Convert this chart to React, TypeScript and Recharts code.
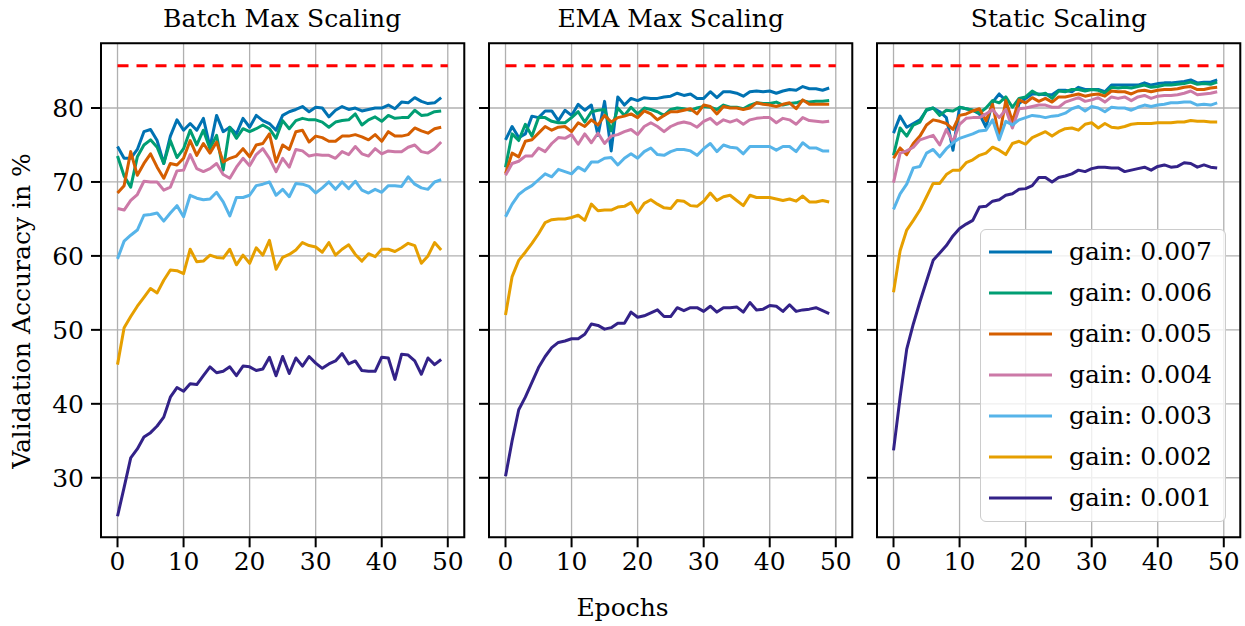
import React from 'react';
import { LineChart, Line, XAxis, YAxis, CartesianGrid, ReferenceLine, ReferenceArea, Legend } from 'recharts';

// ---------- data ----------
const epochs = [0, 1, 2, 3, 4, 5, 6, 7, 8, 9, 10, 11, 12, 13, 14, 15, 16, 17, 18, 19, 20, 21, 22, 23, 24, 25, 26, 27, 28, 29, 30, 31, 32, 33, 34, 35, 36, 37, 38, 39, 40, 41, 42, 43, 44, 45, 46, 47, 48, 49];
const gainLabels = ['gain: 0.007', 'gain: 0.006', 'gain: 0.005', 'gain: 0.004', 'gain: 0.003', 'gain: 0.002', 'gain: 0.001'];
const panelTitles = ['Batch Max Scaling', 'EMA Max Scaling', 'Static Scaling'];
const xTicks = [0, 10, 20, 30, 40, 50];
const yTicks = [30, 40, 50, 60, 70, 80];
const baselineAccuracy = 85.7;
const baselineEpochs = [0, 50];

// Batch Max Scaling
const batch007 = [74.8, 73.2, 73.2, 74.4, 76.8, 77.1, 75.6, 72.5, 76.2, 78.4, 77.0, 77.9, 77.0, 78.6, 74.7, 79.0, 76.8, 77.4, 76.5, 78.6, 77.4, 79.0, 78.3, 77.9, 77.0, 79.0, 79.5, 79.8, 80.2, 79.5, 80.1, 80.0, 78.8, 79.7, 80.2, 79.8, 80.0, 79.6, 79.8, 80.0, 80.0, 80.4, 79.9, 80.8, 80.7, 81.4, 80.9, 80.6, 80.7, 81.4];
const batch006 = [73.5, 70.8, 69.3, 73.4, 75.0, 75.7, 74.7, 72.5, 75.6, 73.3, 74.5, 77.0, 75.0, 77.0, 74.5, 76.3, 71.6, 77.4, 75.9, 77.2, 76.8, 77.2, 77.7, 77.2, 75.9, 78.3, 77.2, 78.3, 78.6, 78.4, 78.4, 78.1, 77.4, 78.1, 78.3, 78.4, 79.2, 77.7, 78.4, 78.8, 78.2, 79.0, 78.6, 78.7, 78.7, 79.7, 79.0, 79.1, 79.5, 79.6];
const batch005 = [68.5, 69.5, 74.1, 70.9, 72.5, 73.8, 72.0, 70.5, 72.5, 72.3, 73.2, 75.6, 73.6, 75.2, 73.9, 75.4, 72.7, 73.2, 73.5, 74.5, 73.4, 75.0, 75.2, 76.5, 72.7, 75.0, 74.4, 76.8, 77.0, 75.4, 76.2, 76.0, 75.5, 75.5, 76.2, 76.2, 76.4, 76.1, 75.7, 76.4, 75.5, 76.8, 76.2, 76.2, 76.4, 77.3, 76.9, 76.6, 77.2, 77.4];
const batch004 = [66.4, 66.2, 67.5, 68.3, 70.1, 70.0, 70.0, 68.9, 69.3, 71.5, 71.6, 73.7, 71.8, 71.4, 71.8, 72.5, 71.0, 70.5, 72.0, 73.2, 72.2, 73.7, 74.5, 73.2, 71.4, 73.2, 72.0, 74.4, 74.2, 73.5, 73.7, 73.6, 73.6, 73.2, 74.1, 73.7, 74.8, 73.8, 73.5, 74.5, 73.8, 74.2, 74.1, 74.1, 74.7, 75.0, 74.1, 73.9, 74.5, 75.4];
const batch003 = [59.6, 62.0, 62.8, 63.5, 65.5, 65.6, 65.8, 64.7, 65.8, 66.8, 65.3, 68.2, 67.8, 67.6, 67.7, 68.6, 67.3, 65.4, 67.9, 67.9, 68.2, 69.5, 69.7, 70.0, 68.2, 69.0, 68.0, 69.8, 69.7, 69.4, 68.5, 69.2, 70.0, 69.0, 70.0, 69.1, 70.1, 68.9, 68.5, 69.0, 68.6, 69.5, 69.5, 69.4, 70.7, 69.7, 69.2, 69.0, 70.0, 70.3];
const batch002 = [45.3, 50.3, 51.8, 53.2, 54.4, 55.6, 55.0, 56.7, 58.1, 58.0, 57.6, 60.9, 59.2, 59.3, 60.1, 59.8, 59.7, 60.9, 58.8, 60.1, 59.0, 61.1, 60.1, 62.1, 58.2, 59.8, 60.2, 60.8, 61.8, 61.4, 61.2, 60.5, 61.8, 60.1, 60.9, 61.5, 60.2, 59.3, 60.3, 59.9, 60.9, 60.9, 60.6, 61.1, 61.7, 61.4, 59.0, 60.0, 61.8, 60.8];
const batch001 = [24.8, 28.7, 32.7, 33.9, 35.5, 36.1, 37.0, 38.2, 40.9, 42.2, 41.7, 42.7, 42.6, 43.8, 45.0, 44.2, 44.4, 45.0, 43.8, 45.1, 45.0, 44.5, 44.7, 46.3, 43.8, 46.4, 44.1, 46.2, 45.1, 46.4, 45.5, 44.8, 45.4, 45.8, 46.8, 45.4, 45.8, 44.5, 44.4, 44.4, 46.3, 46.2, 43.3, 46.7, 46.6, 45.8, 44.0, 46.2, 45.3, 46.0];

// EMA Max Scaling
const ema007 = [75.7, 77.5, 76.0, 76.5, 78.9, 78.7, 79.6, 79.6, 78.3, 79.7, 79.0, 80.5, 79.7, 80.4, 76.3, 80.9, 74.2, 81.5, 80.4, 81.3, 81.0, 81.4, 81.3, 81.3, 81.5, 81.6, 82.0, 81.7, 81.9, 81.3, 81.3, 82.2, 81.4, 82.2, 82.2, 82.0, 81.6, 82.2, 82.3, 82.2, 82.3, 82.0, 82.3, 82.5, 82.4, 82.9, 82.6, 82.6, 82.4, 82.7];
const ema006 = [72.0, 76.5, 75.6, 77.8, 76.2, 78.7, 78.7, 78.2, 78.0, 78.0, 78.7, 79.5, 78.1, 79.5, 79.7, 79.8, 76.9, 80.0, 79.0, 80.1, 79.2, 80.0, 79.8, 79.5, 79.0, 79.8, 80.0, 79.9, 79.7, 80.0, 80.2, 80.1, 79.8, 80.4, 80.1, 80.1, 79.9, 80.4, 80.7, 80.6, 80.6, 80.8, 80.4, 80.6, 80.7, 81.0, 80.8, 80.9, 80.9, 81.0];
const ema005 = [71.1, 73.9, 73.4, 75.5, 75.7, 76.6, 77.5, 77.0, 77.4, 77.5, 76.8, 78.0, 77.5, 78.4, 77.7, 79.0, 78.1, 78.7, 78.9, 79.2, 78.7, 79.6, 79.2, 78.4, 79.0, 79.5, 79.5, 79.7, 79.9, 79.2, 80.4, 80.2, 79.2, 80.2, 80.0, 80.0, 79.8, 80.0, 80.7, 80.5, 80.4, 80.2, 80.5, 80.7, 79.9, 81.1, 80.5, 80.5, 80.5, 80.5];
const ema004 = [70.9, 72.5, 72.8, 73.5, 73.5, 74.6, 74.1, 75.2, 76.0, 75.9, 76.4, 75.1, 76.5, 75.3, 76.6, 75.2, 76.2, 76.4, 76.8, 77.1, 76.4, 77.5, 78.0, 77.5, 76.8, 77.5, 77.9, 78.1, 77.9, 77.4, 78.2, 78.6, 77.8, 78.4, 78.1, 78.4, 77.8, 78.4, 78.6, 78.7, 78.7, 78.0, 78.6, 78.4, 77.8, 78.7, 78.3, 78.2, 78.1, 78.2];
const ema003 = [65.3, 67.0, 68.3, 69.0, 69.5, 70.3, 71.1, 70.7, 71.7, 71.4, 71.1, 72.0, 71.5, 72.7, 72.7, 73.2, 73.3, 72.3, 73.2, 73.8, 73.2, 74.1, 74.6, 73.7, 73.6, 74.1, 74.4, 74.4, 74.2, 73.6, 74.5, 75.2, 74.1, 75.0, 74.7, 74.6, 73.8, 74.8, 74.8, 74.8, 74.8, 74.3, 74.8, 74.8, 74.1, 75.3, 74.6, 74.6, 74.2, 74.2];
const ema002 = [52.0, 57.2, 59.4, 60.5, 61.7, 63.0, 64.5, 64.9, 65.0, 65.0, 65.2, 65.5, 64.8, 67.0, 66.1, 66.2, 66.2, 66.6, 66.7, 67.2, 65.8, 67.1, 67.6, 67.0, 66.5, 66.4, 67.5, 67.4, 66.8, 66.7, 67.4, 68.5, 67.5, 68.0, 68.2, 67.5, 66.8, 68.2, 67.9, 67.9, 67.9, 67.7, 67.5, 67.7, 67.4, 68.1, 67.3, 67.3, 67.5, 67.3];
const ema001 = [30.2, 35.0, 39.2, 40.9, 42.9, 44.9, 46.4, 47.6, 48.3, 48.5, 48.8, 48.8, 49.4, 50.8, 50.6, 50.1, 50.3, 50.9, 50.9, 52.4, 51.7, 51.9, 52.3, 52.7, 51.8, 51.8, 53.0, 52.6, 53.0, 53.0, 52.5, 53.2, 52.4, 53.0, 53.0, 53.1, 52.4, 53.7, 52.7, 52.8, 53.3, 53.2, 52.5, 53.4, 52.5, 52.7, 52.8, 53.0, 52.6, 52.2];

// Static Scaling
const static007 = [76.6, 78.9, 77.4, 77.9, 78.4, 79.7, 80.0, 79.5, 78.7, 74.3, 80.1, 79.9, 79.7, 79.2, 77.4, 80.8, 81.9, 81.0, 77.5, 80.6, 81.3, 81.9, 81.9, 81.8, 81.8, 82.4, 82.4, 82.2, 82.8, 82.5, 82.5, 82.5, 82.2, 83.1, 83.1, 83.1, 83.1, 83.1, 83.4, 83.1, 83.3, 83.4, 83.4, 83.5, 83.6, 83.8, 83.4, 83.5, 83.5, 83.8];
const static006 = [73.6, 77.3, 76.2, 77.7, 78.1, 79.8, 80.0, 79.0, 79.7, 79.6, 80.1, 79.9, 79.7, 79.3, 80.0, 81.0, 80.7, 81.5, 80.1, 81.3, 81.5, 82.3, 81.8, 82.0, 81.3, 82.3, 82.2, 82.5, 82.5, 82.3, 82.5, 82.4, 82.0, 82.8, 82.7, 82.8, 82.7, 82.9, 83.1, 82.8, 82.9, 83.1, 83.1, 83.2, 83.3, 83.5, 83.2, 83.3, 83.2, 83.5];
const static005 = [73.2, 74.6, 73.7, 75.2, 76.2, 77.7, 78.4, 78.2, 77.9, 77.1, 79.0, 79.2, 79.6, 79.9, 78.3, 80.5, 76.1, 81.0, 78.2, 81.1, 80.7, 81.4, 80.9, 81.3, 80.8, 81.5, 81.5, 81.7, 81.9, 81.6, 81.8, 81.9, 81.6, 82.3, 82.2, 82.2, 81.9, 82.3, 82.4, 82.2, 82.4, 82.5, 82.5, 82.6, 82.8, 82.9, 82.5, 82.5, 82.7, 82.8];
const static004 = [69.9, 73.9, 74.2, 74.7, 75.7, 76.0, 76.3, 75.0, 77.1, 75.4, 77.8, 78.6, 78.7, 78.7, 79.2, 79.8, 78.7, 79.8, 77.3, 79.9, 80.0, 80.2, 80.4, 80.4, 80.1, 80.1, 80.8, 81.1, 81.4, 80.9, 81.1, 81.4, 80.8, 81.5, 81.3, 81.5, 81.0, 81.5, 81.7, 81.3, 81.6, 81.7, 81.7, 81.8, 82.0, 82.3, 81.8, 81.9, 82.0, 82.2];
const static003 = [66.3, 68.4, 69.7, 71.9, 72.1, 73.9, 74.4, 73.4, 74.5, 75.3, 75.9, 76.2, 76.5, 76.9, 77.0, 78.4, 75.7, 78.2, 77.7, 78.4, 78.7, 79.0, 78.9, 78.7, 78.9, 79.0, 79.3, 79.9, 80.2, 79.6, 80.2, 80.0, 79.5, 80.1, 80.0, 80.0, 79.7, 80.1, 80.4, 80.2, 80.4, 80.5, 80.7, 80.7, 80.8, 80.8, 80.4, 80.5, 80.4, 80.7];
const static002 = [55.1, 60.7, 63.5, 64.8, 66.2, 68.0, 69.8, 69.8, 71.0, 71.6, 71.6, 72.6, 73.0, 73.6, 73.9, 74.7, 74.3, 73.7, 75.2, 75.5, 75.1, 76.0, 76.4, 76.8, 76.2, 76.8, 77.2, 77.3, 77.0, 77.8, 78.0, 77.3, 77.9, 77.4, 77.3, 77.5, 77.8, 77.9, 77.9, 77.9, 78.0, 78.0, 78.0, 78.1, 78.1, 78.3, 78.2, 78.2, 78.1, 78.1];
const static001 = [33.7, 40.9, 47.4, 50.8, 53.8, 56.6, 59.4, 60.4, 61.4, 62.7, 63.7, 64.3, 64.8, 66.6, 66.7, 67.4, 67.6, 68.2, 68.4, 69.0, 69.1, 69.5, 70.6, 70.6, 70.0, 70.6, 70.8, 71.1, 71.6, 71.4, 71.8, 72.0, 72.0, 71.9, 71.9, 71.4, 71.6, 71.8, 72.0, 71.6, 72.1, 72.3, 72.0, 72.1, 72.6, 72.5, 72.0, 72.3, 72.0, 71.9];

// ---------- styling ----------
const seriesColors = ['#0072B2', '#009E73', '#D55E00', '#CC79A7', '#56B4E9', '#E69F00', '#332288'];
const FONT = '"DejaVu Serif", serif';
const FS = 25;
const FIG_W = 1245;
const FIG_H = 626;
const PLOT_TOP = 43.3;
const PLOT_BOTTOM = 537.3;
const PLOT_W = 363.3;
const XAXIS_H = 40;
const X_DOMAIN: [number, number] = [-2.5, 52.5];
const Y_DOMAIN: [number, number] = [21.95, 88.75];

function buildRows(series: number[][]) {
  return epochs.map((e, i) => {
    const row: Record<string, number> = { epoch: e };
    series.forEach((s, j) => {
      row['s' + j] = s[i];
    });
    return row;
  });
}

const panels = [
  { title: panelTitles[0], left: 100.5, rows: buildRows([batch007, batch006, batch005, batch004, batch003, batch002, batch001]), yLabels: true, legend: false },
  { title: panelTitles[1], left: 489, rows: buildRows([ema007, ema006, ema005, ema004, ema003, ema002, ema001]), yLabels: false, legend: false },
  { title: panelTitles[2], left: 877.3, rows: buildRows([static007, static006, static005, static004, static003, static002, static001]), yLabels: false, legend: true },
];

const tickStyle = { fill: '#000', fontSize: FS, fontFamily: FONT };
const tickLineStyle = { stroke: '#000', strokeWidth: 2 };

function LegendBox() {
  return (
    <div
      style={{
        width: 246,
        height: 293,
        boxSizing: 'border-box',
        border: '1.5px solid #cccccc',
        borderRadius: 6,
        background: 'rgba(255,255,255,0.8)',
        paddingTop: 1,
      }}
    >
      {gainLabels.map((label, i) => (
        <div key={label} style={{ height: 41, display: 'flex', alignItems: 'center' }}>
          <svg width={80} height={10} style={{ marginLeft: 8, flex: 'none' }}>
            <line x1={0} x2={63} y1={5} y2={5} stroke={seriesColors[i]} strokeWidth={3} />
          </svg>
          <span style={{ fontFamily: FONT, fontSize: FS, color: '#000', whiteSpace: 'nowrap', lineHeight: 1 }}>{label}</span>
        </div>
      ))}
    </div>
  );
}

function Panel({ left, rows, yLabels, legend }: { left: number; rows: Record<string, number>[]; yLabels: boolean; legend: boolean }) {
  const yAxisW = yLabels ? 100 : 20;
  const chartLeft = left - yAxisW;
  const width = yAxisW + PLOT_W + 3;
  return (
    <div style={{ position: 'absolute', left: chartLeft, top: 0 }}>
      <LineChart
        width={width}
        height={FIG_H}
        data={rows}
        margin={{ top: PLOT_TOP, right: 3, bottom: FIG_H - PLOT_BOTTOM - XAXIS_H, left: 0 }}
      >
        <CartesianGrid stroke="#b0b0b0" strokeWidth={1.3} />
        <XAxis
          dataKey="epoch"
          type="number"
          domain={X_DOMAIN}
          ticks={xTicks}
          interval={0}
          allowDataOverflow
          height={XAXIS_H}
          tickSize={10}
          tickMargin={5}
          axisLine={false}
          tickLine={tickLineStyle}
          tick={tickStyle}
        />
        <YAxis
          type="number"
          domain={Y_DOMAIN}
          ticks={yTicks}
          interval={0}
          allowDataOverflow
          width={yAxisW}
          tickSize={10}
          tickMargin={7}
          axisLine={false}
          tickLine={tickLineStyle}
          tick={tickStyle}
          tickFormatter={yLabels ? undefined : () => ''}
        />
        <ReferenceLine
          segment={[
            { x: baselineEpochs[0], y: baselineAccuracy },
            { x: baselineEpochs[1], y: baselineAccuracy },
          ]}
          stroke="#ff0000"
          strokeWidth={3}
          strokeDasharray="11 8"
        />
        {gainLabels.map((label, j) => (
          <Line
            key={label}
            type="linear"
            dataKey={'s' + j}
            name={label}
            stroke={seriesColors[j]}
            strokeWidth={3}
            strokeLinejoin="round"
            dot={false}
            activeDot={false}
            isAnimationActive={false}
          />
        ))}
        <ReferenceArea
          x1={X_DOMAIN[0]}
          x2={X_DOMAIN[1]}
          y1={Y_DOMAIN[0]}
          y2={Y_DOMAIN[1]}
          fill="none"
          fillOpacity={0}
          stroke="#000"
          strokeWidth={2}
          ifOverflow="visible"
        />
        {legend && (
          <Legend
            layout="vertical"
            align="center"
            verticalAlign="middle"
            wrapperStyle={{ left: 980 - chartLeft, top: 229, width: 246, height: 293 }}
            content={() => <LegendBox />}
          />
        )}
      </LineChart>
    </div>
  );
}

export default function App() {
  return (
    <div style={{ position: 'absolute', left: 0, top: 0, width: FIG_W, height: FIG_H, background: '#fff', overflow: 'hidden' }}>
      {panels.map((p) => (
        <Panel key={p.title} left={p.left} rows={p.rows} yLabels={p.yLabels} legend={p.legend} />
      ))}
      <svg width={FIG_W} height={FIG_H} style={{ position: 'absolute', left: 0, top: 0, pointerEvents: 'none' }}>
        {panels.map((p) => (
          <text key={p.title} x={p.left + PLOT_W / 2} y={27.3} textAnchor="middle" fontFamily={FONT} fontSize={FS} fill="#000">
            {p.title}
          </text>
        ))}
        <text x={FIG_W / 2} y={616} textAnchor="middle" fontFamily={FONT} fontSize={FS} fill="#000">
          Epochs
        </text>
        <text x={30} y={311} textAnchor="middle" fontFamily={FONT} fontSize={FS} fill="#000" transform="rotate(-90, 30, 311)">
          Validation Accuracy in %
        </text>
      </svg>
    </div>
  );
}
